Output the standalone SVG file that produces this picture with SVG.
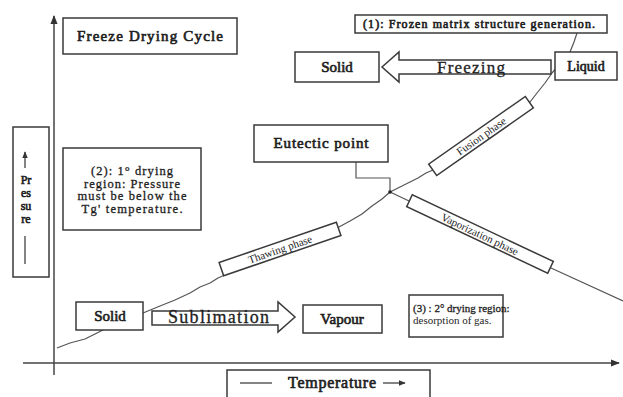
<svg xmlns="http://www.w3.org/2000/svg" width="623" height="397" viewBox="0 0 623 397">
<defs>
<style>
.box{fill:#fff;stroke:#3a3a3a;stroke-width:1.5}
.ln{fill:none;stroke:#555;stroke-width:1.2;stroke-linejoin:round}
.ax{fill:none;stroke:#444;stroke-width:1.5}
.t{font-family:"Liberation Serif","Times New Roman",serif;fill:#1e1e1e}
.b{stroke:#1e1e1e;stroke-width:0.65}
.m{stroke:#1e1e1e;stroke-width:0.3}
.c{text-anchor:middle}
</style>
<marker id="ah" viewBox="0 0 10 10" refX="9" refY="5" markerWidth="6" markerHeight="6" orient="auto"><path d="M0,1 L10,5 L0,9 z" fill="#333"/></marker>
</defs>
<rect width="623" height="397" fill="#fff"/>
<g id="axes">
<line class="ax" x1="54" y1="375" x2="54" y2="16" marker-end="url(#ah)"/>
<line class="ax" x1="23" y1="363" x2="619" y2="363" marker-end="url(#ah)"/>
</g>
<g id="connectors">
<path class="ln" d="M57,348 L70,343 L85,339 L95,334 L103,330 L143,313 L160,306 L175,300 L190,293 L200,287 L210,283 L218,278 L227,274 L339,227 L350,221 L362,214 L372,206 L382,199 L390,192 L400,187 L410,182 L418,178 L426,173 L433,170 L530,102 L537,93 L545,83 L552,73 L570,52 L574,42 L577,33"/>
<path class="ln" d="M390,192 L409,201 M551,268 L623,301"/>
<path class="ln" d="M356,162 L356,178 L390,178 L390,192"/>
<circle cx="390" cy="192" r="1.8" fill="#222"/>
</g>
<g id="title"><rect class="box" x="63" y="18" width="174" height="36"/><text class="t b c" x="150" y="41" font-size="15" textLength="146">Freeze Drying Cycle</text></g>
<g id="note1"><rect class="box" x="355" y="15" width="252" height="18"/><text class="t b" x="363" y="28" font-size="12" textLength="232">(1): Frozen matrix structure generation.</text></g>
<g id="solid-top"><rect class="box" x="295" y="52" width="84" height="30"/><text class="t b c" x="337" y="72" font-size="15">Solid</text></g>
<g id="freezing"><path class="box" d="M382,67 L399,52 L399,60 L551,60 L551,74 L399,74 L399,82 Z"/><text class="t m" x="437" y="73" font-size="17" textLength="68">Freezing</text></g>
<g id="liquid"><rect class="box" x="555" y="52" width="62" height="28"/><text class="t b c" x="586" y="71" font-size="14">Liquid</text></g>
<g id="eutectic"><rect class="box" x="254" y="125" width="134" height="37"/><text class="t b c" x="321" y="148" font-size="15" textLength="95">Eutectic point</text></g>
<g id="note2"><rect class="box" x="63" y="148" width="138" height="82"/>
<text class="t m c" font-size="12.5"><tspan x="132" y="175" textLength="82">(2): 1° drying</tspan><tspan x="132" y="187.5" textLength="96">region: Pressure</tspan><tspan x="132" y="200" textLength="109">must be below the</tspan><tspan x="132" y="212.5" textLength="101">Tg' temperature.</tspan></text></g>
<g id="pressure"><rect class="box" x="13" y="127" width="36" height="150"/>
<line x1="25" y1="168" x2="25" y2="152" stroke="#333" stroke-width="1.2" marker-end="url(#ah)"/>
<text class="t b c" font-size="12"><tspan x="26" y="184">Pr</tspan><tspan x="26" y="197">es</tspan><tspan x="26" y="210">su</tspan><tspan x="26" y="223">re</tspan></text>
<line x1="25" y1="236" x2="25" y2="264" stroke="#333" stroke-width="1.2"/></g>
<g id="fusion" transform="translate(481,136) rotate(-35)"><rect class="box" x="-59" y="-7" width="118" height="14"/><text class="t c" x="0" y="4" font-size="11">Fusion phase</text></g>
<g id="vaporization" transform="translate(480,234) rotate(25.3)"><rect class="box" x="-78" y="-6.5" width="156" height="13"/><text class="t c" x="0" y="4" font-size="11">Vaporization phase</text></g>
<g id="thawing" transform="translate(280,249) rotate(-19)"><rect class="box" x="-62" y="-7" width="124" height="14"/><text class="t c" x="0" y="4" font-size="11">Thawing phase</text></g>
<g id="solid-bottom"><rect class="box" x="76" y="302" width="67" height="28"/><text class="t b c" x="110" y="321" font-size="15">Solid</text></g>
<g id="sublimation"><path class="box" d="M152,311 L278,311 L278,302 L295,317 L278,332 L278,325 L152,325 Z"/><text class="t m" x="168" y="323" font-size="18" textLength="101">Sublimation</text></g>
<g id="vapour"><rect class="box" x="303" y="305" width="79" height="28"/><text class="t b c" x="342" y="324" font-size="15">Vapour</text></g>
<g id="note3"><rect class="box" x="409" y="295" width="94" height="42"/>
<text class="t" font-size="11"><tspan class="m" x="413" y="312">(3) : 2° drying region:</tspan><tspan x="413" y="324">desorption of gas.</tspan></text></g>
<g id="temperature"><rect class="box" x="227" y="370" width="203" height="32"/>
<line x1="240" y1="383" x2="272" y2="383" stroke="#333" stroke-width="1.2"/>
<text class="t b c" x="332" y="388" font-size="16" textLength="88">Temperature</text>
<line x1="383" y1="383" x2="405" y2="383" stroke="#333" stroke-width="1.2" marker-end="url(#ah)"/></g>
</svg>
